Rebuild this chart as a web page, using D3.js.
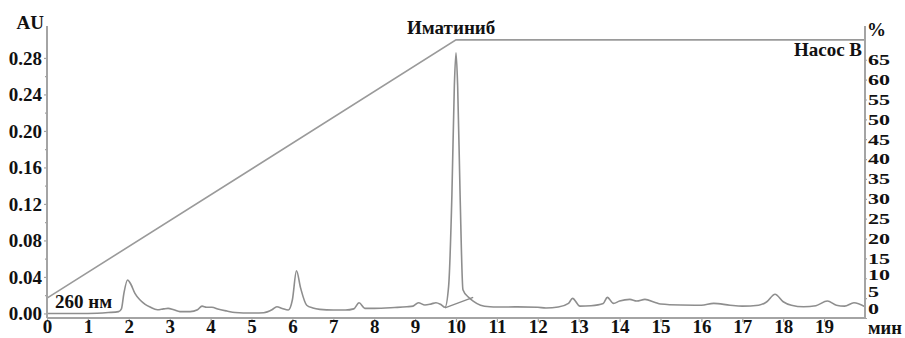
<!DOCTYPE html>
<html>
<head>
<meta charset="utf-8">
<script src="https://cdn.jsdelivr.net/npm/d3@7"></script>
<style>
  html, body { margin: 0; padding: 0; background: #fff; }
  svg { display: block; }
  text { font-family: "Liberation Serif", "Times New Roman", serif; font-weight: bold; fill: #111; }
</style>
</head>
<body>
<svg id="chart" width="905" height="338"></svg>
<script>
// Chromatogram at 260 nm: retention time (min) and absorbance (AU)
const timeMin = [0.0, 0.5, 1.0, 1.5, 1.75, 1.82, 1.88, 1.97, 2.05, 2.15, 2.27, 2.4, 2.52, 2.7, 2.85, 2.96, 3.1, 3.25, 3.5, 3.68,
  3.79, 3.9, 4.03, 4.2, 4.4, 4.6, 4.8, 5.0, 5.3, 5.5, 5.62, 5.75, 5.9, 6.0, 6.1, 6.2, 6.35, 6.5, 6.67, 7.0,
  7.3, 7.5, 7.63, 7.77, 8.0, 8.5, 8.8, 8.95, 9.08, 9.24, 9.4, 9.51, 9.62, 9.73, 9.82, 9.9, 9.96, 10.0, 10.04, 10.1,
  10.17, 10.3, 10.42, 10.6, 10.83, 11.0, 11.5, 12.0, 12.2, 12.5, 12.75, 12.85, 13.03, 13.3, 13.6, 13.7, 13.85, 14.0, 14.25, 14.42,
  14.62, 14.87, 15.0, 15.5, 16.0, 16.3, 16.7, 17.0, 17.4, 17.6, 17.8, 18.0, 18.2, 18.5, 18.8, 19.08, 19.3, 19.5, 19.73, 20.0];
const absorbance = [0.000, 0.000, 0.000, 0.001, 0.002, 0.005, 0.022, 0.0366, 0.032, 0.022, 0.015, 0.010, 0.007, 0.004, 0.005, 0.0056, 0.004, 0.002, 0.002, 0.004,
  0.008, 0.0068, 0.0067, 0.0045, 0.0026, 0.001, 0.0005, 0.0005, 0.0008, 0.004, 0.0074, 0.0055, 0.0037, 0.015, 0.0468, 0.028, 0.009, 0.006, 0.0045, 0.0037,
  0.0037, 0.005, 0.0117, 0.0056, 0.0056, 0.0065, 0.0073, 0.008, 0.0117, 0.0092, 0.0105, 0.0117, 0.010, 0.0067, 0.03, 0.13, 0.25, 0.2857, 0.25, 0.13,
  0.026, 0.018, 0.0136, 0.009, 0.0073, 0.007, 0.0072, 0.0067, 0.006, 0.007, 0.011, 0.0165, 0.008, 0.0085, 0.011, 0.0176, 0.011, 0.0136, 0.0154, 0.0136,
  0.0154, 0.012, 0.0103, 0.0092, 0.009, 0.011, 0.009, 0.008, 0.009, 0.0128, 0.021, 0.0128, 0.009, 0.0073, 0.0085, 0.0136, 0.009, 0.008, 0.0117, 0.0073];

// Integration baseline under the imatinib peak
const baseTime = [9.73, 10.42];
const baseAU = [0.0062, 0.0176];

// Pump B gradient program (% B)
const pumpTime = [0, 10, 20];
const pumpB = [5, 70, 70];

// Axis ticks
const auTicks = [0.00, 0.04, 0.08, 0.12, 0.16, 0.20, 0.24, 0.28];
const auMinorTicks = [0.02, 0.06, 0.10, 0.14, 0.18, 0.22, 0.26];
const timeTicks = d3.range(0, 20, 1);
const pctTicks = d3.range(0, 70, 5);

const svg = d3.select("#chart");
const plotLeft = 47, plotRight = 865, plotTop = 26, plotBottom = 318;

const x = d3.scaleLinear().domain([0, 20]).range([plotLeft, plotRight]);
const yAU = d3.scaleLinear().domain([-0.005, 0.315]).range([plotBottom, plotTop]);
const yPct = d3.scaleLinear().domain([0, 73.5]).range([plotBottom, plotTop]);

const axisColor = "#a4a4a4";

// Gradient line
svg.append("path")
  .datum(pumpTime.map((t, i) => [t, pumpB[i]]))
  .attr("fill", "none")
  .attr("stroke", "#9a9a9a")
  .attr("stroke-width", 1.6)
  .attr("d", d3.line().x(d => x(d[0])).y(d => yPct(d[1])));

// Chromatogram trace
svg.append("path")
  .datum(timeMin.map((t, i) => [t, absorbance[i]]))
  .attr("fill", "none")
  .attr("stroke", "#8e8e8e")
  .attr("stroke-width", 1.6)
  .attr("stroke-linejoin", "round")
  .attr("d", d3.line().curve(d3.curveMonotoneX).x(d => x(d[0])).y(d => yAU(d[1])));

// Peak baseline segment
svg.append("path")
  .datum(baseTime.map((t, i) => [t, baseAU[i]]))
  .attr("fill", "none")
  .attr("stroke", "#8a8a8a")
  .attr("stroke-width", 1.3)
  .attr("d", d3.line().x(d => x(d[0])).y(d => yAU(d[1])));

// Left axis (AU)
const gLeft = svg.append("g").attr("transform", `translate(${plotLeft},0)`)
  .call(d3.axisLeft(yAU).tickValues(auTicks).tickSize(3).tickPadding(2).tickFormat(d3.format(".2f")));
svg.append("g").attr("transform", `translate(${plotLeft},0)`)
  .call(d3.axisLeft(yAU).tickValues(auMinorTicks).tickSize(2).tickFormat(""))
  .call(g => g.select(".domain").remove());

// Bottom axis (min)
const gBottom = svg.append("g").attr("transform", `translate(0,${plotBottom})`)
  .call(d3.axisBottom(x).tickValues(timeTicks).tickSize(4).tickPadding(3).tickFormat(d3.format("d")));

// Right axis (% B)
const gRight = svg.append("g").attr("transform", `translate(${plotRight},0)`)
  .call(d3.axisRight(yPct).tickValues(pctTicks).tickSize(2).tickPadding(1).tickFormat(d3.format("d")));

// Axis styling
svg.selectAll(".domain").attr("stroke", axisColor).attr("stroke-width", 2);
svg.selectAll(".tick line").attr("stroke", axisColor).attr("stroke-width", 1.2);
svg.selectAll(".tick text")
  .attr("font-weight", "bold")
  .attr("font-size", 19)
  .attr("fill", "#111");
gLeft.select(".domain").attr("d", `M0,${plotTop}V${plotBottom}`);
gRight.select(".domain").attr("d", `M0,${plotTop}V${plotBottom}`);
gBottom.select(".domain").attr("d", `M${plotLeft},0H${plotRight}`);
gBottom.selectAll(".tick text").attr("y", 15).attr("dy", 0);

// Right-hand % labels: compact height, wide glyphs, lowest three lifted clear of the time axis
const pctLift = { 0: -9, 5: -6, 10: -3.5 };
gRight.selectAll(".tick text")
  .attr("font-size", 15)
  .attr("textLength", d => String(d).length * 11)
  .attr("lengthAdjust", "spacingAndGlyphs")
  .attr("y", d => pctLift[d] || 0);

// Titles and annotations
svg.append("text").attr("x", 44).attr("y", 29).attr("text-anchor", "end").attr("font-size", 19).text("AU");
svg.append("text").attr("x", 867).attr("y", 36).attr("font-size", 19).text("%");
svg.append("text").attr("x", 862).attr("y", 56).attr("text-anchor", "end").attr("font-size", 19).text("Насос B");
svg.append("text").attr("x", 407).attr("y", 34).attr("font-size", 19).text("Иматиниб");
svg.append("text").attr("x", 55).attr("y", 308).attr("font-size", 19).text("260 нм");
svg.append("text").attr("x", 868).attr("y", 333.8).attr("font-size", 18.5).text("мин");
</script>
</body>
</html>
